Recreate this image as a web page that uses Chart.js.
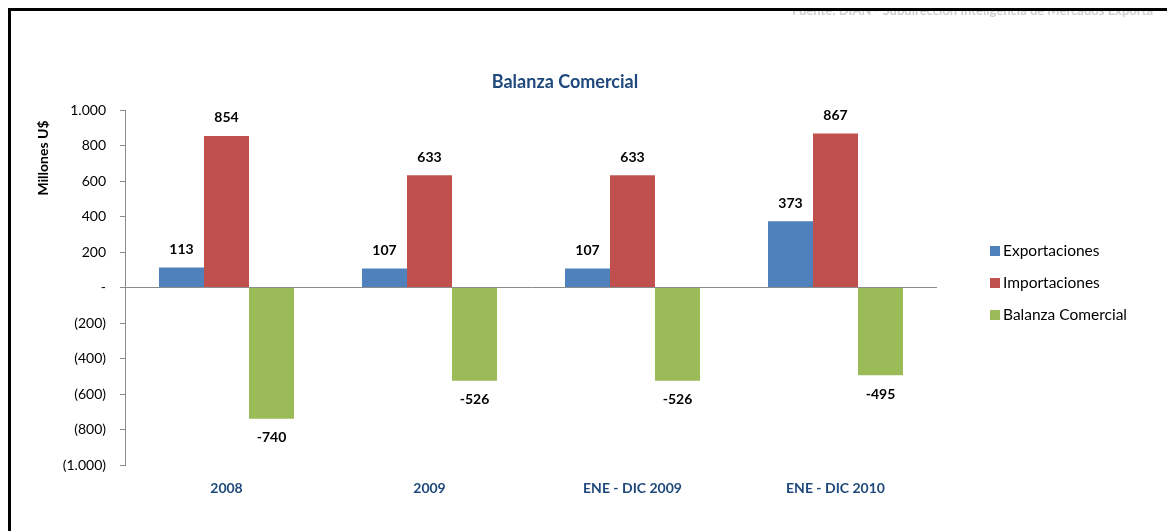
<!DOCTYPE html>
<html>
<head>
<meta charset="utf-8">
<script src="https://cdn.jsdelivr.net/npm/chart.js@4.4.1/dist/chart.umd.min.js"></script>
<style>
  html, body { margin: 0; padding: 0; background: #fff; overflow: hidden; }
  #wrap { position: relative; width: 1167px; height: 531px; overflow: hidden; }
  #chart { position: absolute; left: 0; top: 0; }
  #srcbox { position: absolute; left: 792px; top: 11px; width: 400px; height: 8px; overflow: hidden; }
  #src { position: absolute; left: 0; top: -9px; white-space: nowrap; font: bold 13px Lato, sans-serif; color: #cfcfcf; }
  #frame { position: absolute; left: 8px; top: 8px; width: 1200px; height: 600px; border-top: 3px solid #000; border-left: 3px solid #000; }
</style>
</head>
<body>
<div id="wrap">
  <canvas id="chart" width="1167" height="531"></canvas>
  <div id="srcbox"><div id="src">Fuente: DIAN - Subdirección Inteligencia de Mercados Exporta</div></div>
  <div id="frame"></div>
</div>
<script>
const categories = ['2008', '2009', 'ENE - DIC 2009', 'ENE - DIC 2010'];
const exportaciones = [113, 107, 107, 373];
const importaciones = [854, 633, 633, 867];
const balanza = [-740, -526, -526, -495];
const seriesNames = ['Exportaciones', 'Importaciones', 'Balanza Comercial'];
const seriesColors = ['#4F81BD', '#C0504D', '#9BBB59'];

const fmt = (n) => n.toLocaleString('de-DE');
const tickLabel = (v) => v === 0 ? '-' : v < 0 ? '(' + fmt(-v) + ')' : fmt(v);

// titles, value labels and legend drawn on the canvas
const decor = {
  id: 'decor',
  afterDatasetsDraw(chart) {
    const ctx = chart.ctx;
    ctx.save();
    ctx.font = 'bold 14px Lato';
    ctx.fillStyle = '#000';
    ctx.textAlign = 'center';
    ctx.textBaseline = 'middle';
    chart.data.datasets.forEach((ds, i) => {
      chart.getDatasetMeta(i).data.forEach((bar, j) => {
        const v = ds.data[j];
        ctx.fillText(String(v), bar.x, v >= 0 ? bar.y - 18 : bar.y + 19);
      });
    });

    ctx.font = 'bold 18px Lato';
    ctx.fillStyle = '#1F497D';
    ctx.fillText('Balanza Comercial', 565, 82);

    ctx.save();
    ctx.translate(43, 158);
    ctx.rotate(-Math.PI / 2);
    ctx.font = 'bold 14px Lato';
    ctx.fillStyle = '#000';
    ctx.fillText('Millones U$', 0, 0);
    ctx.restore();

    ctx.textAlign = 'left';
    ctx.font = '15.5px Lato';
    chart.data.datasets.forEach((ds, i) => {
      const y = 251 + i * 32;
      ctx.fillStyle = ds.backgroundColor;
      ctx.fillRect(990, y - 5, 10, 10);
      ctx.fillStyle = '#000';
      ctx.fillText(ds.label, 1003, y);
    });
    ctx.restore();
  }
};

new Chart(document.getElementById('chart'), {
  type: 'bar',
  data: {
    labels: categories,
    datasets: [
      { label: seriesNames[0], data: exportaciones, backgroundColor: seriesColors[0] },
      { label: seriesNames[1], data: importaciones, backgroundColor: seriesColors[1] },
      { label: seriesNames[2], data: balanza, backgroundColor: seriesColors[2] }
    ]
  },
  options: {
    responsive: false,
    animation: false,
    categoryPercentage: 0.665,
    barPercentage: 1,
    layout: { padding: { left: 0, top: 110, right: 230, bottom: 0 } },
    plugins: {
      legend: { display: false },
      title: { display: false },
      tooltip: { enabled: false }
    },
    scales: {
      x: {
        grid: { display: false, drawTicks: false },
        border: { display: false },
        ticks: { color: '#1F497D', font: { family: 'Lato', size: 14, weight: 'bold' }, padding: 15 },
        afterFit: (scale) => { scale.height = 66; }
      },
      y: {
        min: -1000,
        max: 1000,
        ticks: {
          stepSize: 200,
          color: '#000',
          font: { family: 'Lato', size: 14 },
          padding: 14,
          callback: (v) => tickLabel(v)
        },
        grid: {
          color: (c) => (c.tick && c.tick.value === 0) ? '#8c8c8c' : 'rgba(0,0,0,0)',
          tickColor: '#8c8c8c',
          tickLength: 5
        },
        border: { color: '#8c8c8c' },
        afterFit: (scale) => { scale.width = 125; }
      }
    }
  },
  plugins: [decor]
});
</script>
</body>
</html>
